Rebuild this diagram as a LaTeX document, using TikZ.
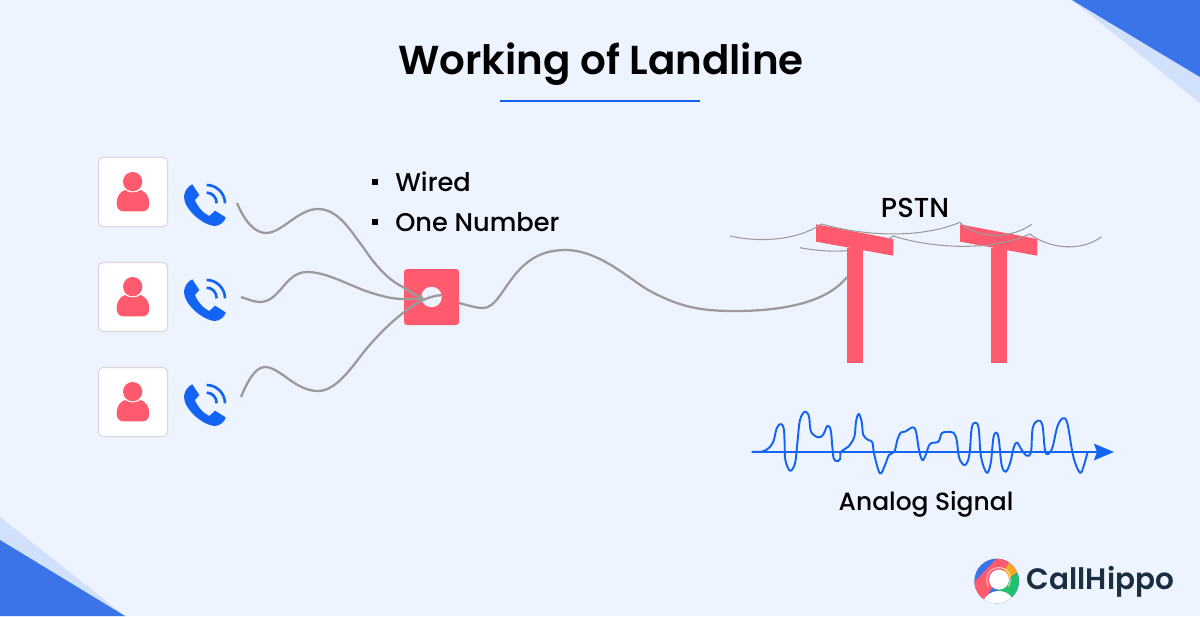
\documentclass[tikz,border=0pt]{standalone}
\usepackage{fontspec}
\setmainfont{Poppins Medium}[BoldFont={Poppins SemiBold}]
\usetikzlibrary{arrows.meta}
\definecolor{pageBlue}{HTML}{EDF3FF}
\definecolor{cornerBlue}{HTML}{3B73E8}
\definecolor{cornerPale}{HTML}{D2E1FB}
\definecolor{iconRed}{HTML}{FF5A6E}
\definecolor{iconBlue}{HTML}{1464F4}
\definecolor{wireGray}{HTML}{9B9B9B}
\definecolor{logoInk}{HTML}{1A2E3F}
\definecolor{logoOrange}{HTML}{F9A825}
\definecolor{logoGreen}{HTML}{22C06E}

\begin{document}
\begin{tikzpicture}
[x=0.02cm,y=-0.02cm,
  wireDecorate/.style={draw=wireGray,line width=1.3pt},
  thinDecorate/.style={draw=wireGray,line width=0.6pt},
  cardDecorate/.style={shape=rectangle,rounded corners=0.09cm,fill=white,draw=black!15,line width=0.6pt,minimum width=1.38cm,minimum height=1.38cm},
  hubDecorate/.style={shape=rectangle,rounded corners=0.06cm,fill=iconRed,minimum width=1.1cm,minimum height=1.12cm},
  bulletDecorate/.style={shape=rectangle,fill=black,inner sep=0pt,minimum size=0.11cm},
  pics/personIcon/.style={code={
    \begin{scope}[scale=1/3]
    \fill[iconRed] (158,125) circle[radius=29];
    \fill[iconRed] (110,190) .. controls (110,170) and (120,155) .. (135,150)
      .. controls (148,160) and (168,160) .. (182,150)
      .. controls (197,155) and (208,170) .. (208,190)
      .. controls (208,205) and (200,214) .. (188,214) -- (130,214)
      .. controls (118,214) and (110,205) .. cycle;
    \end{scope}}},
  pics/phoneIcon/.style={code={
    \begin{scope}[scale=1/3]
    \fill[iconBlue] (337,133) -- (358,165) -- (345,180)
      .. controls (352,200) and (370,220) .. (388,228) -- (405,212) -- (437,232)
      .. controls (435,245) and (420,257) .. (405,258)
      .. controls (365,255) and (310,205) .. (312,168)
      .. controls (315,150) and (325,138) .. cycle;
    \draw[iconBlue,line width=1.5pt] (380,135) .. controls (410,135) and (435,160) .. (435,190);
    \draw[iconBlue,line width=1.5pt] (380,158) .. controls (397,158) and (410,172) .. (410,190);
    \end{scope}}}]
\useasboundingbox (0,0) rectangle (1200,616);
%% page and corners
\fill[pageBlue] (0,0) rectangle (1200,616);
\fill[cornerPale] (1072,0) -- (1200,103) -- (1200,0) -- cycle;
\fill[cornerBlue] (1072,0) -- (1200,77) -- (1200,0) -- cycle;
\fill[cornerPale] (0,517) -- (125,616) -- (0,616) -- cycle;
\fill[cornerBlue] (0,540) -- (125,616) -- (0,616) -- cycle;
%% title
\node (titleText) at (601,64) {\fontsize{23}{26}\selectfont\bfseries Working of Landline};
\draw[draw=iconBlue,line width=1.1pt] (500,101) -- (700,101);
%% users
\foreach \nodename/\y/\dy/\py in {cardA/192/0/0, cardB/297/105/95, cardC/402/210/200}
{
  \node (\nodename) at (133,\y) [cardDecorate] {};
  \pic at (80,140+\dy) {personIcon};
  \pic at (80,140+\py) {phoneIcon};
}
%% feature list
\foreach \nodename/\y/\words in {wired/182/Wired, oneNumber/222/One Number}
{
  \node (\nodename) at (395,\y) [anchor=west,inner sep=0pt] {\fontsize{14.6}{18}\selectfont \words};
  \node (\nodename Bullet) at (375,\y) [bulletDecorate] {};
}
%% free ends of the wires
\coordinate (wireA) at (237,203);
\coordinate (wireB) at (241,297);
\coordinate (wireC) at (241,397);
\coordinate (hubInA) at (423,298);
\coordinate (hubInB) at (423,299);
\coordinate (hubInC) at (442,295);
\coordinate (poleIn) at (847,277);
%% line to the pole runs under the hub
\draw[wireDecorate] (431,297) .. controls (465,303) and (472,308) .. (483,308)
  .. controls (505,308) and (510,250) .. (565,250)
  .. controls (600,250) and (630,280) .. (650,291)
  .. controls (680,307) and (700,311) .. (735,311)
  .. controls (775,311) and (825,305) .. (poleIn);
\node (hub) at (431.5,297) [hubDecorate] {};
\node (hubHole) at (431.5,297) [shape=circle,fill=pageBlue,inner sep=0pt,minimum size=0.41cm] {};
%% wires into the hub
\draw[wireDecorate] (wireA) .. controls (245,222) and (255,233) .. (266,233)
  .. controls (282,233) and (298,209) .. (318,209)
  .. controls (338,209) and (350,230) .. (363,247)
  .. controls (375,265) and (388,280) .. (403,287)
  .. controls (410,292) and (416,296) .. (hubInA);
\draw[wireDecorate] (wireB) .. controls (250,300) and (255,302) .. (260,302)
  .. controls (280,302) and (285,272) .. (307,272)
  .. controls (325,272) and (345,283) .. (363,290)
  .. controls (380,296) and (392,299) .. (403,299) -- (hubInB);
\draw[wireDecorate] (wireC) .. controls (246,385) and (254,367) .. (265,367)
  .. controls (280,367) and (295,391) .. (318,391)
  .. controls (335,391) and (350,370) .. (363,353)
  .. controls (375,338) and (390,323) .. (403,313)
  .. controls (415,303) and (428,296) .. (hubInC);
%% poles
\begin{scope}[shift={(720,190)},scale=1/3]
\draw[thinDecorate] (240,173) .. controls (290,183) and (340,185) .. (385,182);
\foreach \nodename/\dx in {poleA/0, poleB/432}
{
  \fill[iconRed] (288+\dx,103) -- (520+\dx,147) -- (520+\dx,197) -- (288+\dx,155) -- cycle;
  \fill[iconRed] (380+\dx,175) rectangle (429+\dx,518);
}
\draw[thinDecorate] (30,138) .. controls (120,158) and (220,150) .. (288,112) -- (305,102)
  .. controls (420,135) and (590,150) .. (720,97)
  .. controls (760,140) and (860,155) .. (935,103);
\draw[thinDecorate] (505,147) -- (520,138)
  .. controls (620,170) and (800,190) .. (930,132)
  .. controls (970,165) and (1070,195) .. (1145,140);
\end{scope}
\node (pstnText) at (915,208) {\fontsize{15.6}{18}\selectfont PSTN};
%% signal
\coordinate (axisStart) at (752,452);
\coordinate (axisEnd) at (1114,452);
\draw[draw=iconBlue,line width=1pt,-{Stealth[length=0.4cm,width=0.33cm,inset=0.06cm]}] (axisStart) -- (axisEnd);
\begin{scope}[shift={(740,400)},scale=1/3]
\draw[iconBlue,line width=1.1pt] plot[smooth,tension=0.6] coordinates {
  (35,155) (65,155) (85,145) (100,125) (110,85) (122,72) (131,85) (134,130)
  (136,180) (150,212) (165,190) (172,130) (180,60) (195,35) (207,50) (213,95)
  (235,112) (250,103) (262,78) (272,90) (277,140) (281,175) (290,183) (300,178)
  (303,155) (325,140) (343,110) (348,65) (356,42) (365,65) (370,105) (385,120)
  (397,127) (403,165) (420,220) (435,195) (447,165) (463,155) (472,120) (482,98)
  (495,95) (518,82) (528,95) (537,150) (547,180) (557,165) (570,132) (595,125)
  (605,100) (620,96) (640,98) (650,120) (658,175) (675,195) (688,165) (695,85)
  (706,68) (716,85) (723,170) (740,218) (752,190) (760,115) (768,98) (776,115)
  (785,195) (797,215) (810,190) (822,140) (832,128) (842,145) (860,167) (873,155)
  (878,85) (893,62) (907,75) (915,150) (925,162) (938,140) (952,80) (968,55)
  (982,70) (1000,170) (1020,218) (1032,195) (1043,155)};
\end{scope}
\node (signalText) at (926,504) {\fontsize{14.2}{18}\selectfont Analog Signal};
%% logo
\begin{scope}[shift={(960,545)},scale=1/3]
\begin{scope}
\clip (110,108) circle[radius=67];
\fill[cornerBlue] (30,30) rectangle (190,190);
\fill[iconRed] (20,135) -- (125,25) -- (150,48) -- (65,175) -- cycle;
\fill[logoOrange] (125,25) -- (190,40) -- (190,70) -- (100,130) -- (150,48) -- cycle;
\fill[logoGreen] (190,70) -- (190,190) -- (100,190) -- (120,120) -- cycle;
\fill[white] (116,182) ellipse[x radius=48,y radius=44];
\end{scope}
\draw[white!60!iconRed,line width=0.6pt] (84,125) .. controls (70,80) and (100,68) .. (117,68);
\draw[white!60!logoOrange,line width=0.6pt] (117,68) .. controls (140,68) and (160,85) .. (146,125);
\fill[white] (117,104) circle[radius=30];
\end{scope}
\node (logoText) at (1100.5,582) {\fontsize{16.8}{20}\selectfont\bfseries\color{logoInk} CallHippo};
\end{tikzpicture}
\end{document}
